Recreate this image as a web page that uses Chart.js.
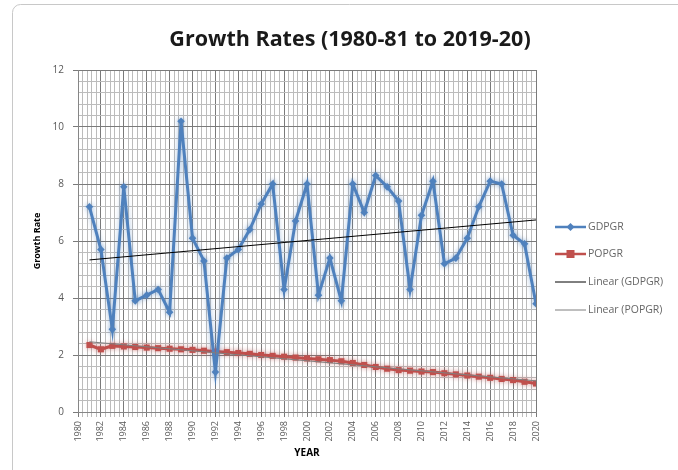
<!DOCTYPE html>
<html>
<head>
<meta charset="utf-8">
<script src="https://cdn.jsdelivr.net/npm/chart.js@4/dist/chart.umd.min.js"></script>
<style>
  html, body { margin: 0; padding: 0; background: #ffffff; }
  #wrap { width: 678px; height: 470px; }
</style>
</head>
<body>
<div id="wrap"><canvas id="c" width="678" height="470"></canvas></div>
<script>
// Fiscal-year growth rates, year = closing year of the fiscal year (1980-81 -> 1981)
const years = [1981, 1982, 1983, 1984, 1985, 1986, 1987, 1988, 1989, 1990,
               1991, 1992, 1993, 1994, 1995, 1996, 1997, 1998, 1999, 2000,
               2001, 2002, 2003, 2004, 2005, 2006, 2007, 2008, 2009, 2010,
               2011, 2012, 2013, 2014, 2015, 2016, 2017, 2018, 2019, 2020];

const gdpgr = [7.2, 5.7, 2.9, 7.9, 3.9, 4.1, 4.3, 3.5, 10.2, 6.1,
               5.3, 1.4, 5.4, 5.7, 6.4, 7.3, 8.0, 4.3, 6.7, 8.0,
               4.1, 5.4, 3.9, 8.0, 7.0, 8.3, 7.9, 7.4, 4.3, 6.9,
               8.1, 5.2, 5.4, 6.1, 7.2, 8.1, 8.0, 6.2, 5.9, 3.8];

const popgr = [2.35, 2.20, 2.32, 2.30, 2.28, 2.26, 2.24, 2.22, 2.20, 2.18,
               2.15, 2.12, 2.10, 2.07, 2.04, 2.00, 1.97, 1.94, 1.91, 1.88,
               1.85, 1.82, 1.78, 1.72, 1.65, 1.58, 1.52, 1.47, 1.45, 1.42,
               1.40, 1.36, 1.32, 1.28, 1.24, 1.20, 1.16, 1.12, 1.06, 1.00];

const seriesNames = ['GDPGR', 'POPGR', 'Linear (GDPGR)', 'Linear (POPGR)'];
const xLabelYears = [1980, 1982, 1984, 1986, 1988, 1990, 1992, 1994, 1996, 1998, 2000,
                     2002, 2004, 2006, 2008, 2010, 2012, 2014, 2016, 2018, 2020];
const yLabelValues = [0, 2, 4, 6, 8, 10, 12];

const titleText = 'Growth Rates (1980-81 to 2019-20)';
const xTitle = 'YEAR';
const yTitle = 'Growth Rate';

const BLUE = '#4f81bd';
const RED = '#c0504d';

// Ordinary least squares fit, evaluated at the first and last year
function linearFit(xs, ys) {
  const n = xs.length;
  let mx = 0, my = 0;
  for (let i = 0; i < n; i++) { mx += xs[i]; my += ys[i]; }
  mx /= n; my /= n;
  let sxy = 0, sxx = 0;
  for (let i = 0; i < n; i++) { sxy += (xs[i] - mx) * (ys[i] - my); sxx += (xs[i] - mx) ** 2; }
  const b = sxy / sxx, a = my - b * mx;
  return [{ x: xs[0], y: a + b * xs[0] }, { x: xs[n - 1], y: a + b * xs[n - 1] }];
}

const toPoints = (xs, ys) => xs.map((x, i) => ({ x, y: ys[i] }));

// Grid positions: major every 2 units, minor every 0.4
function gridValues(min, max, step) {
  const out = [];
  const n = Math.round((max - min) / step);
  for (let k = 0; k <= n; k++) out.push(Math.round((min + k * step) * 10) / 10);
  return out;
}
const isMajor = (v, labels) => labels.some(l => Math.abs(l - v) < 1e-6);

const GRID_MINOR = '#bcbcbc';
const GRID_MAJOR = '#7a7a7a';

// Soft glow under the two data lines
const glowPlugin = {
  id: 'glow',
  beforeDatasetDraw(chart, args) {
    const ds = chart.data.datasets[args.index];
    if (ds.glow) {
      chart.ctx.save();
      chart.ctx.shadowColor = ds.glow;
      chart.ctx.shadowBlur = 5;
    }
  },
  afterDatasetDraw(chart, args) {
    const ds = chart.data.datasets[args.index];
    if (ds.glow) chart.ctx.restore();
  }
};

// Frame, title and the legend on the right
const decorPlugin = {
  id: 'decor',
  beforeDraw(chart) {
    const ctx = chart.ctx;
    ctx.save();
    ctx.fillStyle = '#ffffff';
    ctx.fillRect(0, 0, chart.width, chart.height);
    ctx.strokeStyle = '#c8c8c8';
    ctx.lineWidth = 1;
    ctx.beginPath();
    ctx.roundRect(12.5, 4.5, 720, 520, 8);
    ctx.stroke();
    ctx.restore();
  },
  afterDraw(chart) {
    const ctx = chart.ctx;
    ctx.save();
    ctx.fillStyle = '#1a1a1a';
    ctx.font = 'bold 21.5px "Open Sans", sans-serif';
    ctx.textAlign = 'center';
    ctx.textBaseline = 'middle';
    ctx.fillText(titleText, 350, 40);

    const rows = [227, 254, 282, 310];
    const x0 = 555, x1 = 586;
    ctx.font = '10.5px "Open Sans", sans-serif';
    ctx.textAlign = 'left';
    chart.data.datasets.forEach((ds, i) => {
      const y = rows[i];
      ctx.strokeStyle = ds.borderColor;
      ctx.lineWidth = i < 2 ? 2.5 : 1;
      ctx.beginPath();
      ctx.moveTo(x0, y);
      ctx.lineTo(x1, y);
      ctx.stroke();
      if (i === 0) {
        ctx.fillStyle = BLUE;
        ctx.beginPath();
        ctx.moveTo((x0 + x1) / 2, y - 4);
        ctx.lineTo((x0 + x1) / 2 + 4, y);
        ctx.lineTo((x0 + x1) / 2, y + 4);
        ctx.lineTo((x0 + x1) / 2 - 4, y);
        ctx.closePath();
        ctx.fill();
      } else if (i === 1) {
        ctx.fillStyle = RED;
        ctx.fillRect((x0 + x1) / 2 - 4, y - 4, 8, 8);
      }
      ctx.fillStyle = '#666666';
      ctx.fillText(ds.label, x1 + 2, y + 0.5);
    });
    ctx.restore();
  }
};

const ctx = document.getElementById('c').getContext('2d');
new Chart(ctx, {
  type: 'line',
  data: {
    datasets: [
      {
        label: seriesNames[0],
        data: toPoints(years, gdpgr),
        borderColor: BLUE,
        backgroundColor: BLUE,
        borderWidth: 3,
        pointStyle: 'rectRot',
        pointRadius: 3.8,
        pointBorderWidth: 0,
        tension: 0,
        glow: 'rgba(79,129,189,0.55)',
        order: 1
      },
      {
        label: seriesNames[1],
        data: toPoints(years, popgr),
        borderColor: RED,
        backgroundColor: RED,
        borderWidth: 3,
        pointStyle: 'rect',
        pointRadius: 4.3,
        pointBorderWidth: 0,
        tension: 0,
        glow: 'rgba(192,80,77,0.45)',
        order: 2
      },
      {
        label: seriesNames[2],
        data: linearFit(years, gdpgr),
        borderColor: '#000000',
        borderWidth: 1,
        pointRadius: 0,
        order: 0
      },
      {
        label: seriesNames[3],
        data: linearFit(years, popgr),
        borderColor: '#7f7f7f',
        borderWidth: 1,
        pointRadius: 0,
        order: 0
      }
    ]
  },
  options: {
    responsive: false,
    animation: false,
    layout: { padding: { left: 12, right: 142, top: 70, bottom: 0 } },
    plugins: {
      legend: { display: false },
      title: { display: false },
      tooltip: { enabled: false }
    },
    scales: {
      x: {
        type: 'linear',
        min: 1980,
        max: 2020,
        afterFit: s => { s.height = 58; },
        afterBuildTicks: s => { s.ticks = gridValues(1980, 2020, 0.4).map(v => ({ value: v })); },
        grid: {
          color: c => isMajor(c.tick.value, xLabelYears) ? GRID_MAJOR : GRID_MINOR,
          tickColor: c => isMajor(c.tick.value, xLabelYears) ? GRID_MAJOR : GRID_MINOR,
          tickLength: 5,
          lineWidth: 1
        },
        border: { display: true, color: '#868686' },
        ticks: {
          autoSkip: false,
          minRotation: 90,
          maxRotation: 90,
          padding: 4,
          color: '#595959',
          font: { family: '"Open Sans", sans-serif', size: 9 },
          callback: v => isMajor(v, xLabelYears) ? String(Math.round(v)) : ''
        },
        title: {
          display: true,
          text: xTitle,
          color: '#000000',
          font: { family: '"Open Sans", sans-serif', size: 10, weight: 'bold' },
          padding: { top: 0, bottom: 11 }
        }
      },
      y: {
        type: 'linear',
        min: 0,
        max: 12,
        afterFit: s => { s.width = 66; },
        afterBuildTicks: s => { s.ticks = gridValues(0, 12, 0.4).map(v => ({ value: v })); },
        grid: {
          color: c => isMajor(c.tick.value, yLabelValues) ? GRID_MAJOR : GRID_MINOR,
          tickColor: c => isMajor(c.tick.value, yLabelValues) ? GRID_MAJOR : 'rgba(0,0,0,0)',
          tickLength: 5,
          lineWidth: 1
        },
        border: { display: true, color: '#868686' },
        ticks: {
          autoSkip: false,
          padding: 9,
          color: '#595959',
          font: { family: '"Open Sans", sans-serif', size: 10 },
          callback: v => isMajor(v, yLabelValues) ? String(Math.round(v)) : ''
        },
        title: {
          display: true,
          text: yTitle,
          color: '#000000',
          font: { family: '"Open Sans", sans-serif', size: 9, weight: 'bold' },
          padding: { top: 20, bottom: 0 }
        }
      }
    }
  },
  plugins: [glowPlugin, decorPlugin]
});
</script>
</body>
</html>
